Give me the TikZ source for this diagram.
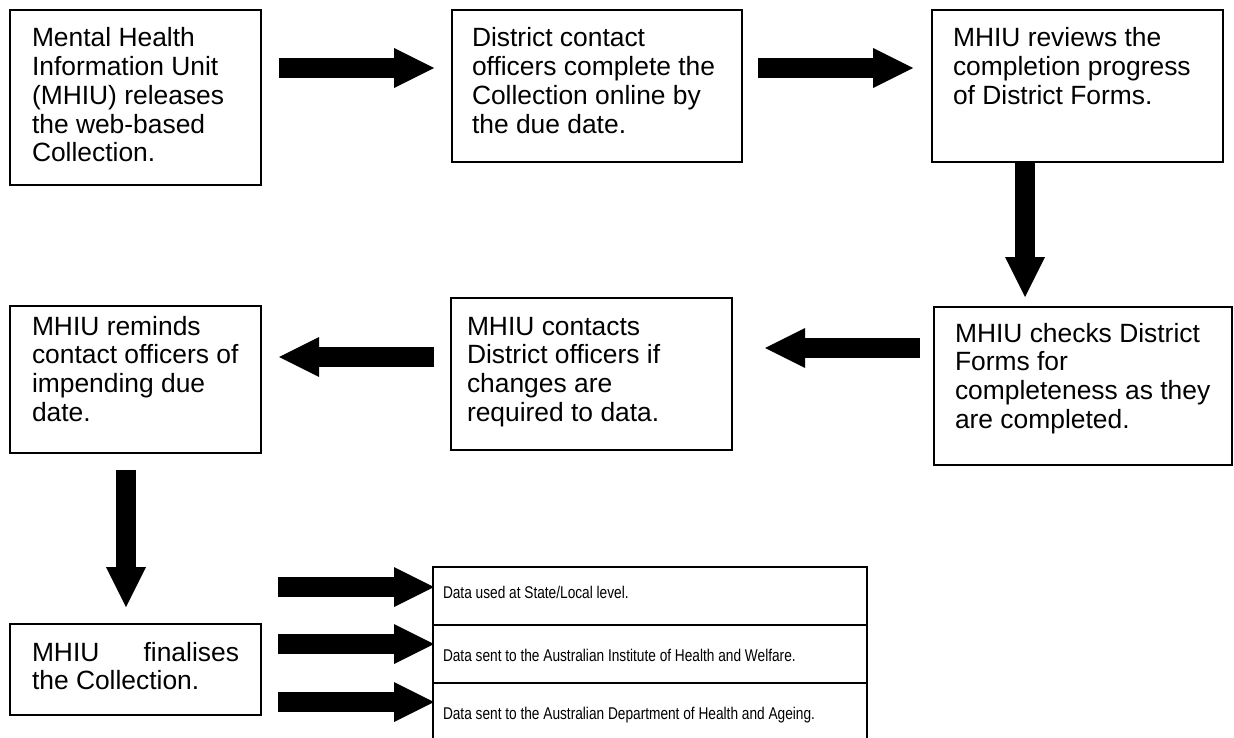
\documentclass[tikz,border=0pt]{standalone}
\usepackage{fontspec}
\setmainfont{Liberation Sans}
\newfontfamily\narrowfont{Liberation Sans}[FakeStretch=0.805]
\usetikzlibrary{calc,arrows.meta}
\newcommand\boxlines[2]{\parbox[t]{#1}{\raggedright #2}}
\begin{document}
\begin{tikzpicture}[x=1pt,y=-1pt,
  box/.style={draw, line width=1.5pt, inner sep=0pt, outer sep=0pt, anchor=north west},
  txt/.style={inner sep=0pt, outer sep=0pt, anchor=base west, font=\fontsize{26.4pt}{28.7pt}\selectfont},
  small/.style={inner sep=0pt, outer sep=0pt, anchor=base west, font=\narrowfont\fontsize{17pt}{20pt}\selectfont},
  fat/.style={line width=20pt, -{Triangle[length=40pt,width=40pt,line width=0pt]}}]
\useasboundingbox (0,0) rectangle (1234,738);
% boxes
\node[box, minimum width=251pt, minimum height=175pt] (b1) at (10,10) {};
\node[box, minimum width=290pt, minimum height=152pt] (b2) at (452,10) {};
\node[box, minimum width=291pt, minimum height=152pt] (b3) at (932,10) {};
\node[box, minimum width=298pt, minimum height=158pt] (b4) at (934,307) {};
\node[box, minimum width=281pt, minimum height=152pt] (b5) at (451,298) {};
\node[box, minimum width=251pt, minimum height=147pt] (b6) at (10,306) {};
\node[box, minimum width=251pt, minimum height=91pt] (b7) at (10,624) {};
\node[box, minimum width=434pt, minimum height=58pt] (r1) at (433,567) {};
\node[box, minimum width=434pt, minimum height=58pt] (r2) at (433,625) {};
\node[box, draw=none, minimum width=434pt, minimum height=60pt] (r3) at (433,683) {};
\draw[line width=1.5pt] (r3.south west) -- (r3.north west) -- (r3.north east) -- (r3.south east);
% texts
\node[txt] (t1) at (32,47) {\boxlines{300pt}{Mental Health\\Information Unit\\(MHIU) releases\\the web-based\\Collection.}};
\node[txt] (t2) at (472,47) {\boxlines{300pt}{District contact\\officers complete the\\Collection online by\\the due date.}};
\node[txt] (t3) at (953,47) {\boxlines{300pt}{MHIU reviews the\\completion progress\\of District Forms.}};
\node[txt] (t4) at (955,342) {\boxlines{300pt}{MHIU checks District\\Forms for\\completeness as they\\are completed.}};
\node[txt] (t5) at (467,335) {\boxlines{300pt}{MHIU contacts\\District officers if\\changes are\\required to data.}};
\node[txt] (t6) at (32,335) {\boxlines{300pt}{MHIU reminds\\contact officers of\\impending due\\date.}};
\node[txt] (t7) at (32,661) {\parbox[t]{207pt}{MHIU\hfill finalises\\the Collection.}};
\node[small] (s1) at (443,598) {Data used at State/Local level.};
\node[small] (s2) at (443,661) {Data sent to the Australian Institute of Health and Welfare.};
\node[small] (s3) at (443,719) {Data sent to the Australian Department of Health and Ageing.};
% arrows
\draw[fat] ($(b1.north east)+(18,58)$) -- ($(b2.north west)+(-18,58)$);
\draw[fat] ($(b2.north east)+(16,58)$) -- ($(b3.north west)+(-19,58)$);
\draw[fat] ($(b3.south west)+(93,0)$) -- ($(b4.north west)+(91,-10)$);
\draw[fat] ($(b4.north west)+(-14,41)$) -- ($(b5.north east)+(33,50)$);
\draw[fat] ($(b5.north west)+(-17,59)$) -- ($(b6.north east)+(18,51)$);
\draw[fat] ($(b6.south west)+(116,17)$) -- ($(b7.north west)+(116,-17)$);
\draw[fat] ($(b7.north east)+(17,-37)$) -- ($(r1.north west)+(1,20)$);
\draw[fat] ($(b7.north east)+(17,20)$) -- ($(r2.north west)+(1,19)$);
\draw[fat] ($(b7.north east)+(17,78)$) -- ($(r3.north west)+(1,19)$);
\end{tikzpicture}
\end{document}
